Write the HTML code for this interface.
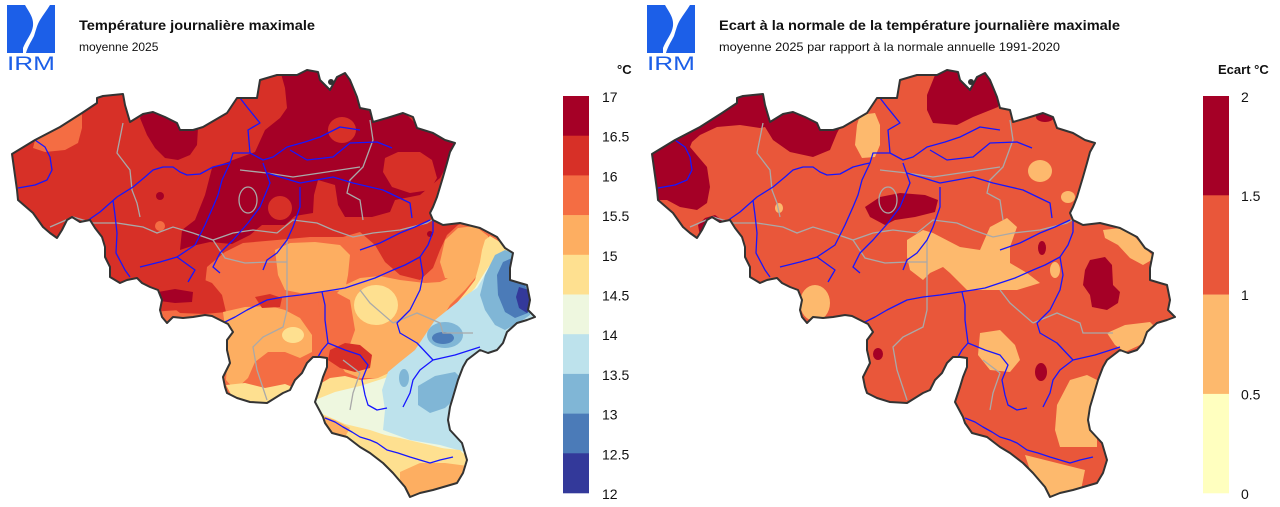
<!DOCTYPE html>
<html><head><meta charset="utf-8"><style>
html,body{margin:0;padding:0;background:#fff;}
svg{display:block;}
text{font-family:"Liberation Sans",Arial,sans-serif;}
</style></head><body>
<svg width="1280" height="507" viewBox="0 0 1280 507" xmlns="http://www.w3.org/2000/svg">
<defs>
<path id="out" d="M12,154 L35,140 L60,127 L82,113 L97,103 L97,98 L103,96 L123,94 L125,105 L130,122 L143,114 L153,112 L165,117 L177,123 L180,130 L193,130 L203,127 L215,120 L227,113 L237,98 L257,98 L260,80 L277,75 L297,75 L307,70 L318,72 L320,80 L330,90 L337,77 L345,73 L350,80 L357,97 L360,108 L370,110 L373,122 L387,118 L403,113 L413,117 L417,128 L433,133 L445,140 L455,143 L450,152 L447,163 L443,177 L440,187 L437,197 L433,207 L430,213 L433,220 L443,225 L460,223 L480,228 L497,237 L505,248 L513,253 L510,268 L510,280 L520,283 L527,285 L530,300 L528,310 L535,317 L527,320 L517,323 L507,332 L503,343 L497,350 L488,353 L480,350 L467,360 L463,367 L458,380 L453,397 L450,407 L448,420 L450,430 L462,443 L467,460 L463,473 L457,483 L433,490 L420,493 L410,497 L405,487 L393,473 L383,463 L370,453 L360,447 L347,437 L332,433 L325,423 L323,417 L315,402 L320,387 L323,377 L327,367 L327,358 L320,357 L313,357 L307,363 L302,373 L295,380 L290,390 L283,393 L267,403 L250,402 L237,398 L227,393 L225,387 L223,377 L230,363 L227,350 L227,340 L233,332 L228,324 L220,320 L212,316 L205,315 L193,317 L183,318 L173,317 L167,323 L162,317 L160,310 L162,300 L158,290 L150,287 L142,283 L137,278 L127,280 L120,283 L110,277 L110,267 L105,257 L105,247 L102,237 L95,228 L90,220 L80,222 L72,217 L67,220 L62,230 L57,238 L50,233 L43,227 L33,213 L18,200 L17,190 Z"/>
<clipPath id="be"><use href="#out"/></clipPath>

<g id="logo">
<rect x="7" y="5" width="48" height="48" fill="#1c5fe8"/>
<path d="M25,5 C29,12 34,18 33,26 C32,34 26,40 23,48 L23,53 L26,53 C28,46 31,42 34,36 C36,30 37,25 40,20 C43,15 47,10 50,5 Z" fill="#fff"/>
<text x="7" y="70" font-size="19" fill="#1c5fe8" textLength="48" lengthAdjust="spacingAndGlyphs">IRM</text>
</g>

<g id="grey" fill="none" stroke="#a9a9a9" stroke-width="1.3">
<polyline points="123,123 117,153 130,170 132,190 137,203 140,217"/>
<polyline points="50,227 73,217 93,223 117,223 143,227 157,233 173,227 193,233 213,240 233,233 253,230 277,233 293,220 317,223 333,230 353,237 373,233 400,230 427,223 437,217"/>
<polyline points="240,170 267,173 293,177 320,173 360,167"/>
<polyline points="370,120 373,140 363,167 350,180 347,193 360,200 363,220"/>
<ellipse cx="248" cy="200" rx="9" ry="13"/>
<polyline points="287,240 287,280 287,310 283,327 263,337 253,347 257,370 267,400"/>
<polyline points="360,290 370,303 393,323"/>
<polyline points="343,360 360,373 353,393 350,410"/>
<polyline points="393,323 417,313 440,323 443,333 473,333"/>
<polyline points="213,240 225,258 245,263 268,262 287,262"/>
</g>

<g id="riv" fill="none" stroke="#1616ff" stroke-width="1.3" stroke-linejoin="round">
<polyline points="35,140 45,147 50,157 52,170 47,180 35,185 18,188"/>
<polyline points="87,221 100,212 117,197 133,187 145,177 153,170 163,167 173,167 180,172 187,175 200,174 213,167 225,164 230,163"/>
<polyline points="113,200 115,215 117,233 116,253 125,270 130,277"/>
<polyline points="140,267 160,262 177,257 195,245 205,225 213,207 218,195 222,180 230,163"/>
<polyline points="177,257 195,270 188,282"/>
<polyline points="230,163 233,153 250,153 248,130 260,123 247,107 240,98"/>
<polyline points="250,153 263,160 273,157 287,147 305,142 320,137 340,127 360,130"/>
<polyline points="290,150 307,160 333,157 350,143 377,142 392,148"/>
<polyline points="263,163 270,183 260,207 248,223 233,240 220,253 213,267 220,273"/>
<polyline points="267,173 300,183 333,177 353,183 383,190 410,203 412,218"/>
<polyline points="300,187 300,207 293,227 287,240 277,253 267,260 263,270"/>
<polyline points="223,323 235,317 247,310 257,305 267,300 283,297 300,295 320,292 333,290 345,288 360,283 375,278 393,270 405,265 420,257 428,245 433,232 433,217"/>
<polyline points="322,292 325,305 325,320 328,343 322,350 318,357"/>
<polyline points="328,343 345,350 360,355 368,365 362,380 365,395 368,405 377,410 387,408"/>
<polyline points="420,257 423,275 420,290 410,310 397,323 400,333 417,343 433,360 420,370 413,380 410,393 403,407"/>
<polyline points="433,360 455,355 480,347"/>
<polyline points="325,418 335,422 343,427 352,432 360,437 370,440 377,443 387,450 398,453 410,457 420,460 430,463 440,460 453,457"/>
<polyline points="360,250 380,243 400,233 415,227 430,220"/>
</g>
</defs>

<rect width="1280" height="507" fill="#fff"/>

<!-- ============ MAP 1 ============ -->
<use href="#logo"/>
<text x="79" y="30" font-size="14" font-weight="bold" fill="#111" textLength="236" lengthAdjust="spacingAndGlyphs">Température journalière maximale</text>
<text x="79" y="51" font-size="12" fill="#111">moyenne 2025</text>

<g clip-path="url(#be)">
<rect x="0" y="60" width="560" height="447" fill="#d73027"/>
<path fill="#f46d43" d="M150,312 L180,310 L200,300 L205,285 L207,267 L225,252 L243,243 L277,240 L310,237 L343,237 L360,232 L375,245 L385,262 L400,275 L420,280 L433,268 L440,250 L447,235 L458,225 L470,220 L560,230 L560,510 L150,510 Z"/>
<path fill="#d73027" d="M150,290 L175,282 L200,278 L212,283 L222,295 L226,312 L205,314 L180,313 Z"/>
<path fill="#a50026" d="M158,292 L175,289 L193,292 L192,302 L175,303 L160,301 Z"/>
<path fill="#fdae61" d="M275,250 L290,243 L315,242 L340,245 L350,255 L348,275 L345,290 L320,292 L300,293 L285,290 L278,275 Z"/>
<path fill="#fdae61" d="M345,285 L360,278 L380,276 L400,280 L425,283 L440,282 L455,275 L470,255 L480,240 L488,238 L492,255 L480,272 L465,290 L450,305 L440,322 L430,345 L410,360 L395,370 L380,378 L360,378 L345,372 L332,350 L325,325 L330,300 Z"/>
<path fill="#fdae61" d="M445,240 L458,228 L475,226 L488,236 L490,255 L478,270 L462,280 L445,278 L440,262 Z"/>
<path fill="#fdae61" d="M223,312 L245,307 L270,306 L285,310 L300,318 L312,335 L312,352 L300,358 L285,352 L268,352 L255,362 L248,378 L235,390 L226,380 L228,350 Z"/>
<path fill="#d73027" d="M255,297 L270,294 L282,298 L280,307 L262,308 Z"/>
<path fill="#f46d43" d="M318,296 L335,292 L350,300 L355,330 L348,350 L332,352 L322,335 Z"/>
<ellipse cx="376" cy="305" rx="22" ry="20" fill="#fee090"/>
<ellipse cx="293" cy="335" rx="11" ry="8" fill="#fee090"/>
<path fill="#fee090" d="M226,385 L245,383 L265,388 L285,384 L300,390 L280,398 L260,405 L235,402 Z"/>
<path fill="#fee090" d="M310,395 L318,385 L330,378 L345,376 L360,380 L378,378 L395,370 L410,362 L425,350 L435,335 L445,318 L455,305 L465,293 L475,280 L480,262 L482,250 L485,240 L490,236 L505,245 L525,262 L545,300 L545,510 L300,510 Z"/>
<path fill="#eef7df" d="M315,400 L335,392 L360,386 L385,378 L405,368 L422,355 L435,338 L448,320 L462,302 L475,288 L485,272 L495,258 L540,270 L540,460 L470,455 L430,445 L400,438 L370,432 L345,428 L322,418 Z"/>
<path fill="#bde2ec" d="M383,430 L385,410 L382,390 L388,372 L400,362 L415,350 L425,335 L435,320 L450,308 L465,296 L477,288 L485,275 L495,262 L540,270 L540,455 L465,452 L440,445 L410,440 Z"/>
<path fill="#80b6d6" d="M495,255 L505,250 L513,253 L510,280 L527,285 L532,300 L530,315 L520,322 L505,330 L495,325 L485,310 L480,295 L485,275 Z"/>
<path fill="#4b7bb8" d="M503,262 L512,258 L512,280 L525,285 L531,300 L528,313 L515,318 L505,312 L498,295 L497,275 Z"/>
<path fill="#33399a" d="M519,287 L529,290 L533,305 L527,313 L519,308 L516,297 Z"/>
<ellipse cx="445" cy="335" rx="18" ry="13" fill="#80b6d6"/>
<ellipse cx="443" cy="338" rx="11" ry="6" fill="#4b7bb8"/>
<path fill="#80b6d6" d="M418,386 L435,376 L455,372 L463,380 L458,396 L445,408 L430,413 L418,405 Z"/>
<ellipse cx="404" cy="378" rx="5" ry="9" fill="#80b6d6"/>
<path fill="#fee090" d="M318,412 L345,424 L370,430 L400,440 L430,447 L460,450 L470,462 L465,485 L440,497 L400,502 L318,500 Z"/>
<path fill="#fdae61" d="M400,472 L420,463 L445,463 L468,466 L468,490 L440,498 L415,500 L400,490 Z"/>
<path fill="#fdae61" d="M320,415 L335,420 L350,428 L345,437 L330,435 L320,428 Z"/>
<path fill="#d73027" d="M330,350 L345,343 L360,345 L372,355 L370,368 L355,372 L340,368 L328,360 Z"/>
<path fill="#a50026" d="M143,113 L153,112 L165,117 L177,123 L180,130 L193,130 L198,128 L197,145 L190,155 L178,160 L165,158 L155,148 L147,135 L140,118 Z"/>
<path fill="#a50026" d="M280,70 L300,66 L320,72 L330,88 L345,68 L355,95 L360,108 L372,112 L375,122 L405,113 L417,125 L445,140 L460,143 L447,165 L440,178 L420,195 L395,200 L390,212 L372,217 L345,217 L338,205 L335,185 L318,180 L314,195 L313,213 L295,216 L285,225 L262,225 L250,235 L232,244 L210,242 L192,246 L180,250 L182,230 L195,220 L205,195 L212,168 L233,160 L255,152 L265,130 L280,118 L287,108 L285,88 Z"/>
<path fill="#d73027" d="M385,158 L398,152 L420,152 L432,160 L437,178 L430,190 L410,193 L392,187 L383,172 Z"/>
<ellipse cx="342" cy="130" rx="14" ry="13" fill="#d73027"/>
<ellipse cx="280" cy="208" rx="12" ry="12" fill="#d73027"/>
<path fill="#f46d43" d="M35,140 L60,127 L82,113 L82,128 L78,143 L65,150 L45,152 L33,148 Z"/>
<circle cx="160" cy="196" r="4" fill="#a50026"/>
<circle cx="160" cy="226" r="5" fill="#f46d43"/>
<circle cx="430" cy="234" r="3" fill="#a50026"/>
</g>
<use href="#grey" clip-path="url(#be)"/>
<use href="#riv" clip-path="url(#be)"/>
<use href="#out" fill="none" stroke="#333" stroke-width="2" stroke-linejoin="round"/>
<ellipse cx="331" cy="82" rx="3" ry="3" fill="#333"/>

<!-- legend 1 -->
<text x="617" y="74" font-size="13" font-weight="bold" fill="#111">°C</text>
<rect x="563" y="96" width="26" height="40" fill="#a50026"/>
<rect x="563" y="135.7" width="26" height="40" fill="#d73027"/>
<rect x="563" y="175.4" width="26" height="40" fill="#f46d43"/>
<rect x="563" y="215.1" width="26" height="40" fill="#fdae61"/>
<rect x="563" y="254.8" width="26" height="40" fill="#fee090"/>
<rect x="563" y="294.5" width="26" height="40" fill="#eef7df"/>
<rect x="563" y="334.2" width="26" height="40" fill="#bde2ec"/>
<rect x="563" y="373.9" width="26" height="40" fill="#80b6d6"/>
<rect x="563" y="413.6" width="26" height="40" fill="#4b7bb8"/>
<rect x="563" y="453.3" width="26" height="40" fill="#33399a"/>
<g font-size="14" fill="#111">
<text x="602" y="102">17</text>
<text x="602" y="141.7">16.5</text>
<text x="602" y="181.4">16</text>
<text x="602" y="221.1">15.5</text>
<text x="602" y="260.8">15</text>
<text x="602" y="300.5">14.5</text>
<text x="602" y="340.2">14</text>
<text x="602" y="379.9">13.5</text>
<text x="602" y="419.6">13</text>
<text x="602" y="459.3">12.5</text>
<text x="602" y="499">12</text>
</g>

<!-- ============ MAP 2 ============ -->
<g transform="translate(640,0)">
<use href="#logo"/>
<text x="79" y="30" font-size="14" font-weight="bold" fill="#111" textLength="401" lengthAdjust="spacingAndGlyphs">Ecart à la normale de la température journalière maximale</text>
<text x="79" y="51" font-size="12" fill="#111" textLength="341" lengthAdjust="spacingAndGlyphs">moyenne 2025 par rapport à la normale annuelle 1991-2020</text>

<g clip-path="url(#be)">
<rect x="0" y="60" width="560" height="447" fill="#e9573a"/>
<path fill="#a50026" d="M5,153 L35,140 L60,127 L82,113 L97,100 L103,93 L123,91 L125,105 L130,122 L143,110 L153,108 L165,113 L177,119 L180,126 L193,126 L203,122 L197,133 L190,150 L173,157 L150,152 L133,140 L125,127 L120,128 L100,125 L77,127 L60,135 L52,142 L50,147 L67,167 L70,187 L67,203 L57,210 L40,207 L27,200 L5,200 Z"/>
<path fill="#a50026" d="M58,225 L65,218 L75,215 L82,220 L80,228 L70,232 L60,236 Z"/>
<path fill="#a50026" d="M225,207 L240,197 L260,193 L285,195 L298,200 L295,212 L275,217 L255,220 L245,225 L230,217 Z"/>
<path fill="#a50026" d="M287,95 L297,70 L320,66 L330,85 L345,66 L360,75 L362,95 L358,107 L333,117 L317,125 L293,123 L287,110 Z"/>
<ellipse cx="405" cy="117" rx="9" ry="5" fill="#a50026"/>
<ellipse cx="402" cy="248" rx="4" ry="7" fill="#a50026"/>
<path fill="#a50026" d="M450,260 L465,257 L472,265 L473,285 L480,292 L478,303 L467,310 L452,307 L450,295 L443,285 L445,270 Z"/>
<ellipse cx="401" cy="372" rx="6" ry="9" fill="#a50026"/>
<ellipse cx="238" cy="354" rx="5" ry="6" fill="#a50026"/>
<g fill="#fdb96d">
<path d="M220,115 L235,113 L240,125 L240,145 L235,157 L222,158 L215,145 L217,125 Z"/>
<ellipse cx="400" cy="171" rx="12" ry="11"/>
<ellipse cx="428" cy="197" rx="7" ry="6"/>
<path d="M267,240 L283,230 L293,233 L320,247 L340,250 L350,227 L367,218 L377,227 L370,247 L370,263 L387,273 L400,283 L377,290 L350,290 L327,290 L317,280 L310,273 L303,267 L290,273 L283,280 L270,270 L267,257 Z"/>
<ellipse cx="175" cy="303" rx="15" ry="18"/>
<path d="M340,333 L360,330 L375,345 L380,360 L370,372 L350,370 L338,355 Z"/>
<path d="M430,380 L447,375 L457,380 L457,447 L420,447 L415,430 L417,405 Z"/>
<path d="M385,455 L405,460 L425,465 L445,470 L440,495 L415,500 L400,485 L390,470 Z"/>
<ellipse cx="415" cy="270" rx="5" ry="8"/>
<path d="M463,230 L480,228 L493,235 L510,253 L515,258 L503,265 L490,258 L478,245 L465,238 Z"/>
<path d="M467,333 L485,325 L510,322 L518,330 L500,345 L485,352 L475,345 Z"/>
<ellipse cx="139" cy="208" rx="4" ry="5"/>
</g>
</g>
<use href="#grey" clip-path="url(#be)"/>
<use href="#riv" clip-path="url(#be)"/>
<use href="#out" fill="none" stroke="#333" stroke-width="2" stroke-linejoin="round"/>
<ellipse cx="331" cy="82" rx="3" ry="3" fill="#333"/>
</g>

<!-- legend 2 -->
<text x="1218" y="74" font-size="13" font-weight="bold" fill="#111">Ecart °C</text>
<rect x="1203" y="96" width="26" height="99.5" fill="#a50026"/>
<rect x="1203" y="195.3" width="26" height="99.5" fill="#e9573a"/>
<rect x="1203" y="294.6" width="26" height="99.5" fill="#fdb96d"/>
<rect x="1203" y="393.9" width="26" height="99.4" fill="#ffffbf"/>
<g font-size="14" fill="#111">
<text x="1241" y="102">2</text>
<text x="1241" y="201">1.5</text>
<text x="1241" y="300">1</text>
<text x="1241" y="399.5">0.5</text>
<text x="1241" y="499">0</text>
</g>
</svg>
</body></html>
